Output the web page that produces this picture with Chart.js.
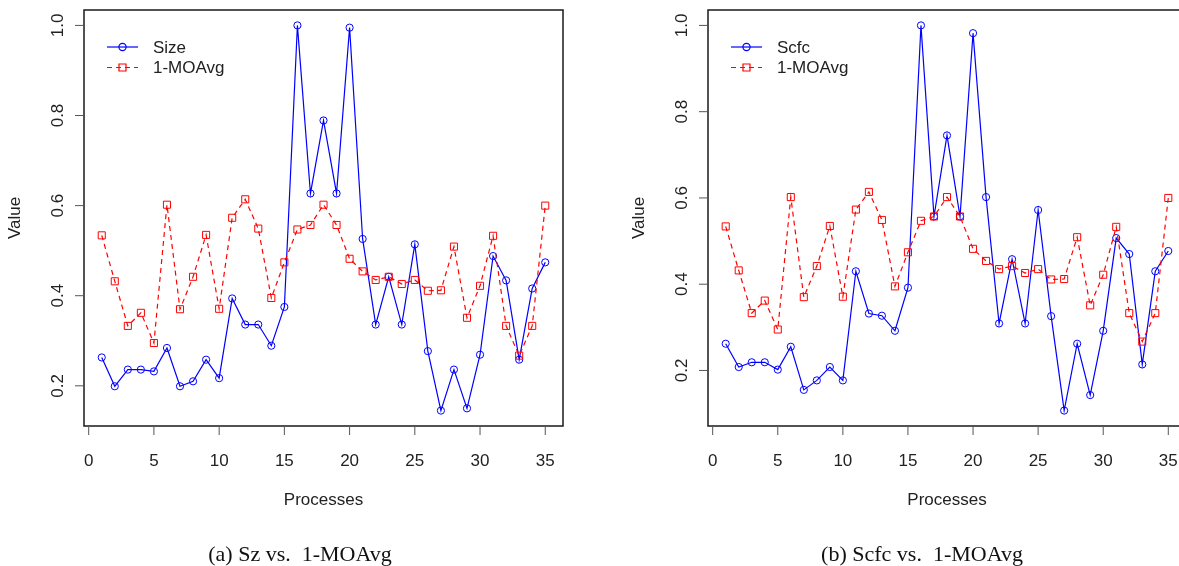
<!DOCTYPE html>
<html>
<head>
<meta charset="utf-8">
<script src="https://cdn.jsdelivr.net/npm/chart.js@4/dist/chart.umd.min.js"></script>
<style>
  html, body { margin: 0; padding: 0; background: #fff; }
  body { position: relative; width: 1179px; height: 566px; overflow: hidden; }
  canvas { position: absolute; top: 0; }
  #chartSz { left: 0; }
  #chartScfc { left: 600px; }
</style>
</head>
<body>
<canvas id="chartSz" width="600" height="566"></canvas>
<canvas id="chartScfc" width="600" height="566"></canvas>
<script>
// Data
var processes = [1, 2, 3, 4, 5, 6, 7, 8, 9, 10, 11, 12, 13, 14, 15, 16, 17, 18, 19, 20,
                 21, 22, 23, 24, 25, 26, 27, 28, 29, 30, 31, 32, 33, 34, 35];
var sizeValues = [0.263, 0.199, 0.236, 0.236, 0.232, 0.284, 0.199, 0.210, 0.258, 0.217,
                  0.394, 0.336, 0.336, 0.289, 0.375, 1.000, 0.627, 0.789, 0.627, 0.995,
                  0.526, 0.336, 0.442, 0.336, 0.514, 0.277, 0.145, 0.236, 0.150, 0.269,
                  0.488, 0.434, 0.258, 0.416, 0.474];
var scfcValues = [0.262, 0.208, 0.219, 0.219, 0.202, 0.255, 0.155, 0.177, 0.208, 0.177,
                  0.430, 0.332, 0.327, 0.292, 0.392, 1.000, 0.557, 0.745, 0.557, 0.982,
                  0.602, 0.309, 0.458, 0.309, 0.572, 0.326, 0.107, 0.262, 0.143, 0.292,
                  0.507, 0.470, 0.214, 0.430, 0.477];
var moAvgValues = [0.534, 0.432, 0.333, 0.362, 0.295, 0.602, 0.370, 0.442, 0.535, 0.371,
                   0.573, 0.614, 0.549, 0.395, 0.474, 0.547, 0.557, 0.602, 0.557, 0.482,
                   0.454, 0.435, 0.442, 0.426, 0.435, 0.411, 0.412, 0.509, 0.351, 0.422,
                   0.533, 0.333, 0.267, 0.333, 0.600];
var xTicks = [0, 5, 10, 15, 20, 25, 30, 35];
var yTicks = [0.2, 0.4, 0.6, 0.8, 1.0];
var yTickLabels = ['0.2', '0.4', '0.6', '0.8', '1.0'];

var SANS = '"Liberation Sans", Arial, sans-serif';
var SERIF = '"Liberation Serif", "Times New Roman", serif';
var BLUE = '#0000ff';
var RED = '#ff0000';

// R-like axis range: data range widened by 4% on each side
function rRange(arrs) {
    var all = [].concat.apply([], arrs);
    var lo = Math.min.apply(null, all), hi = Math.max.apply(null, all);
    var pad = (hi - lo) * 0.04;
    return { min: lo - pad, max: hi + pad };
}

function toPoints(ys) {
    return processes.map(function (p, i) { return { x: p, y: ys[i] }; });
}

// box, ticks, labels, legend and caption drawn in base-graphics style
var rStyle = {
    id: 'rStyle',
    afterDraw: function (chart) {
        var o = chart.options.plugins.rStyle;
        var ctx = chart.ctx, a = chart.chartArea;
        var xs = chart.scales.x, ys = chart.scales.y;
        ctx.save();

        ctx.strokeStyle = '#1a1a1a';
        ctx.lineWidth = 1.5;
        ctx.strokeRect(a.left, a.top, a.right - a.left, a.bottom - a.top);

        ctx.lineWidth = 1;
        ctx.strokeStyle = '#555';
        ctx.fillStyle = '#222';
        ctx.font = '17px ' + SANS;
        ctx.textAlign = 'center';
        ctx.textBaseline = 'middle';

        xTicks.forEach(function (t) {
            var px = xs.getPixelForValue(t);
            ctx.beginPath();
            ctx.moveTo(px, a.bottom);
            ctx.lineTo(px, a.bottom + 9);
            ctx.stroke();
            ctx.fillText(String(t), px, a.bottom + 35);
        });

        yTicks.forEach(function (t, i) {
            var py = ys.getPixelForValue(t);
            ctx.beginPath();
            ctx.moveTo(a.left, py);
            ctx.lineTo(a.left - 9, py);
            ctx.stroke();
            ctx.save();
            ctx.translate(a.left - 26, py);
            ctx.rotate(-Math.PI / 2);
            ctx.fillText(yTickLabels[i], 0, 0);
            ctx.restore();
        });

        // axis titles
        ctx.fillText('Processes', (a.left + a.right) / 2, a.bottom + 74);
        ctx.save();
        ctx.translate(a.left - 69, (a.top + a.bottom) / 2);
        ctx.rotate(-Math.PI / 2);
        ctx.fillText('Value', 0, 0);
        ctx.restore();

        // legend (no frame)
        var lx = a.left + 23, rows = [a.top + 37, a.top + 57.5];
        chart.data.datasets.forEach(function (ds, i) {
            var y = rows[i];
            ctx.strokeStyle = ds.borderColor;
            ctx.lineWidth = 1.2;
            ctx.setLineDash(ds.borderDash || []);
            ctx.beginPath();
            ctx.moveTo(lx, y);
            ctx.lineTo(lx + 31, y);
            ctx.stroke();
            ctx.setLineDash([]);
            ctx.beginPath();
            if (ds.pointStyle === 'rect') {
                ctx.rect(lx + 15.5 - 3.5, y - 3.5, 7, 7);
            } else {
                ctx.arc(lx + 15.5, y, 3.6, 0, Math.PI * 2);
            }
            ctx.stroke();
            ctx.fillStyle = '#222';
            ctx.textAlign = 'left';
            ctx.fillText(ds.label, lx + 46, y + 1);
        });

        // sub-figure caption
        ctx.font = '22px ' + SERIF;
        ctx.textAlign = 'center';
        ctx.fillStyle = '#111';
        ctx.fillText(o.caption, o.captionX, 555);

        ctx.restore();
    }
};

function makeChart(id, label, values, padding, caption, captionX) {
    var yr = rRange([values, moAvgValues]);
    var xr = rRange([processes]);
    return new Chart(document.getElementById(id), {
        type: 'line',
        data: {
            datasets: [
                {
                    label: label,
                    data: toPoints(values),
                    borderColor: BLUE,
                    borderWidth: 1.2,
                    pointStyle: 'circle',
                    pointRadius: 3.6,
                    pointBorderWidth: 1,
                    pointBorderColor: BLUE,
                    pointBackgroundColor: 'rgba(0,0,0,0)',
                    tension: 0,
                    order: 1
                },
                {
                    label: '1-MOAvg',
                    data: toPoints(moAvgValues),
                    borderColor: RED,
                    borderWidth: 1.2,
                    borderDash: [5, 4],
                    pointStyle: 'rect',
                    pointRadius: 5,
                    pointBorderWidth: 1,
                    pointBorderColor: RED,
                    pointBackgroundColor: 'rgba(0,0,0,0)',
                    tension: 0,
                    order: 0
                }
            ]
        },
        options: {
            responsive: false,
            animation: false,
            events: [],
            layout: { padding: padding },
            scales: {
                x: { type: 'linear', min: xr.min, max: xr.max, display: false },
                y: { type: 'linear', min: yr.min, max: yr.max, display: false }
            },
            plugins: {
                legend: { display: false },
                tooltip: { enabled: false },
                rStyle: { caption: caption, captionX: captionX }
            }
        },
        plugins: [rStyle]
    });
}

makeChart('chartSz', 'Size', sizeValues,
    { left: 84, top: 10, right: 37, bottom: 140 }, '(a) Sz vs.  1-MOAvg', 300);
makeChart('chartScfc', 'Scfc', scfcValues,
    { left: 108, top: 10, right: 14, bottom: 140 }, '(b) Scfc vs.  1-MOAvg', 322);
</script>
</body>
</html>
